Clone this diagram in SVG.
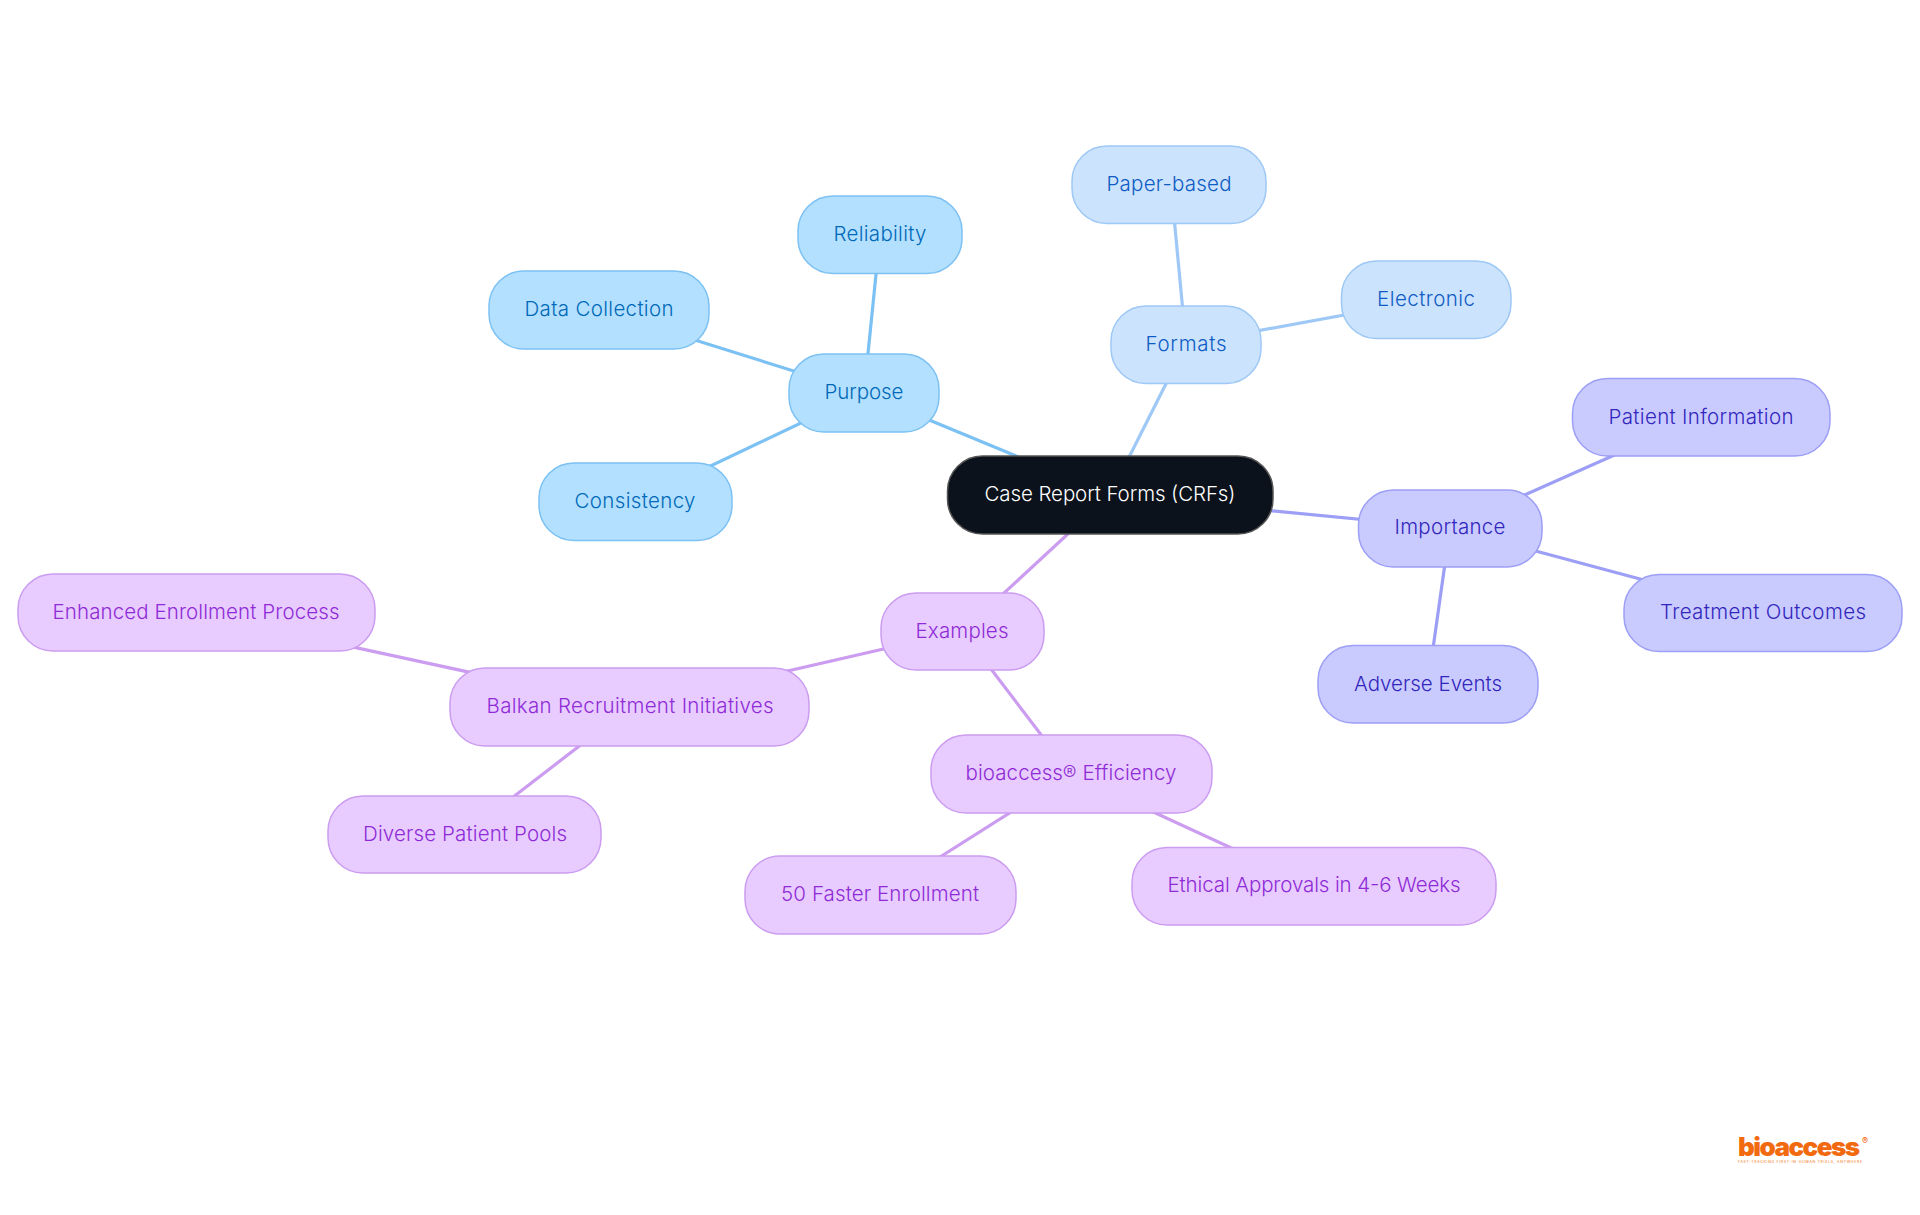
<svg xmlns="http://www.w3.org/2000/svg" width="1920" height="1215" viewBox="0 0 1920 1215">
<style>
text{font-family:"Inter","Noto Sans","Liberation Sans",sans-serif;font-size:20.5px;font-weight:350;text-anchor:middle;dominant-baseline:central}
rect{stroke-width:1.5;rx:35px;ry:35px}
line{stroke-width:3.2;fill:none}
.a rect{fill:#b3e0ff;stroke:#7cc1f3}.a text{fill:#0069b8}
.b rect{fill:#cce3fd;stroke:#9ec8f5}.b text{fill:#0f5cc4}
.c rect{fill:#c9cbff;stroke:#9c9ff5}.c text{fill:#3226bc}
.d rect{fill:#e8ccff;stroke:#cb9cf0}.d text{fill:#8f2bd6}
.la{stroke:#7cc1f3}.lb{stroke:#9ec8f5}.lc{stroke:#9c9ff5}.ld{stroke:#cb9cf0}
</style>
<rect width="1920" height="1215" fill="#fff" style="stroke:none;rx:0;ry:0"/>
<g id="connectors">
<line class="la" x1="1110" y1="495" x2="864" y2="393"/>
<line class="la" x1="864" y1="393" x2="880" y2="235"/>
<line class="la" x1="864" y1="393" x2="599" y2="310"/>
<line class="la" x1="864" y1="393" x2="635" y2="502"/>
<line class="lb" x1="1110" y1="495" x2="1186" y2="344"/>
<line class="lb" x1="1186" y1="344" x2="1171" y2="185"/>
<line class="lb" x1="1186" y1="344" x2="1426" y2="300"/>
<line class="lc" x1="1110" y1="495" x2="1450" y2="528"/>
<line class="lc" x1="1450" y1="528" x2="1700" y2="417"/>
<line class="lc" x1="1450" y1="528" x2="1763" y2="612"/>
<line class="lc" x1="1450" y1="528" x2="1428" y2="684"/>
<line class="ld" x1="1110" y1="495" x2="962" y2="632"/>
<line class="ld" x1="962" y1="631" x2="630" y2="707"/>
<line class="ld" x1="630" y1="707" x2="196" y2="613"/>
<line class="ld" x1="630" y1="707" x2="465" y2="834"/>
<line class="ld" x1="962" y1="631" x2="1071" y2="774"/>
<line class="ld" x1="1071" y1="774" x2="880" y2="895"/>
<line class="ld" x1="1071" y1="774" x2="1314" y2="886"/>
</g>
<g id="root"><rect x="947.500" y="456" width="325.500" height="78" style="fill:#0b121b;stroke:#555"/><text x="1110" y="493" fill="#fff" textLength="251">Case Report Forms (CRFs)</text></g>
<g id="purpose" class="a"><rect x="789" y="354" width="150" height="78"/><text x="864" y="391" textLength="79">Purpose</text></g>
<g id="reliability" class="a"><rect x="798" y="196" width="164" height="77.500"/><text x="880" y="233" textLength="93">Reliability</text></g>
<g id="data-collection" class="a"><rect x="489" y="271" width="220" height="78"/><text x="599" y="308" textLength="149">Data Collection</text></g>
<g id="consistency" class="a"><rect x="539" y="463" width="193" height="77.500"/><text x="635" y="500" textLength="121">Consistency</text></g>
<g id="formats" class="b"><rect x="1111" y="306" width="150" height="77.500"/><text x="1186" y="343" textLength="81">Formats</text></g>
<g id="paper-based" class="b"><rect x="1072" y="146" width="194" height="77.500"/><text x="1169" y="183" textLength="125">Paper-based</text></g>
<g id="electronic" class="b"><rect x="1341.500" y="261" width="169.500" height="77.500"/><text x="1426" y="298" textLength="98">Electronic</text></g>
<g id="importance" class="c"><rect x="1358.500" y="490" width="183.500" height="77"/><text x="1450" y="526" textLength="111">Importance</text></g>
<g id="patient-information" class="c"><rect x="1572.500" y="378.500" width="257.500" height="77.500"/><text x="1701" y="416" textLength="185">Patient Information</text></g>
<g id="treatment-outcomes" class="c"><rect x="1624" y="574.500" width="278" height="77"/><text x="1763" y="611" textLength="206">Treatment Outcomes</text></g>
<g id="adverse-events" class="c"><rect x="1318" y="645.500" width="220" height="77.500"/><text x="1428" y="683" textLength="148">Adverse Events</text></g>
<g id="examples" class="d"><rect x="881" y="593" width="163" height="77"/><text x="962" y="630" textLength="93">Examples</text></g>
<g id="balkan" class="d"><rect x="450" y="668" width="359" height="78"/><text x="630" y="705" textLength="287">Balkan Recruitment Initiatives</text></g>
<g id="enhanced" class="d"><rect x="18" y="574" width="357" height="77"/><text x="196" y="611" textLength="287">Enhanced Enrollment Process</text></g>
<g id="diverse" class="d"><rect x="328" y="796" width="273" height="77"/><text x="465" y="833" textLength="204">Diverse Patient Pools</text></g>
<g id="efficiency" class="d"><rect x="931" y="735" width="281" height="78"/><text x="1071" y="772" textLength="211">bioaccess® Efficiency</text></g>
<g id="faster" class="d"><rect x="745" y="856" width="271" height="78"/><text x="880" y="893" textLength="198">50 Faster Enrollment</text></g>
<g id="ethical" class="d"><rect x="1132" y="847.500" width="364" height="77.500"/><text x="1314" y="884" textLength="293">Ethical Approvals in 4-6 Weeks</text></g>
<g id="logo"><text x="1799" y="1156" textLength="122" style="dominant-baseline:auto;font-size:26px;font-weight:900;fill:#f26a0f">bioaccess</text><text x="1865" y="1140" style="font-size:9px;font-weight:500;fill:#f26a0f">®</text><text x="1800" y="1162" textLength="124" style="font-size:3.500px;font-weight:500;fill:#f58a40">FAST-TRACKING FIRST-IN-HUMAN TRIALS, ANYWHERE</text></g>
</svg>
